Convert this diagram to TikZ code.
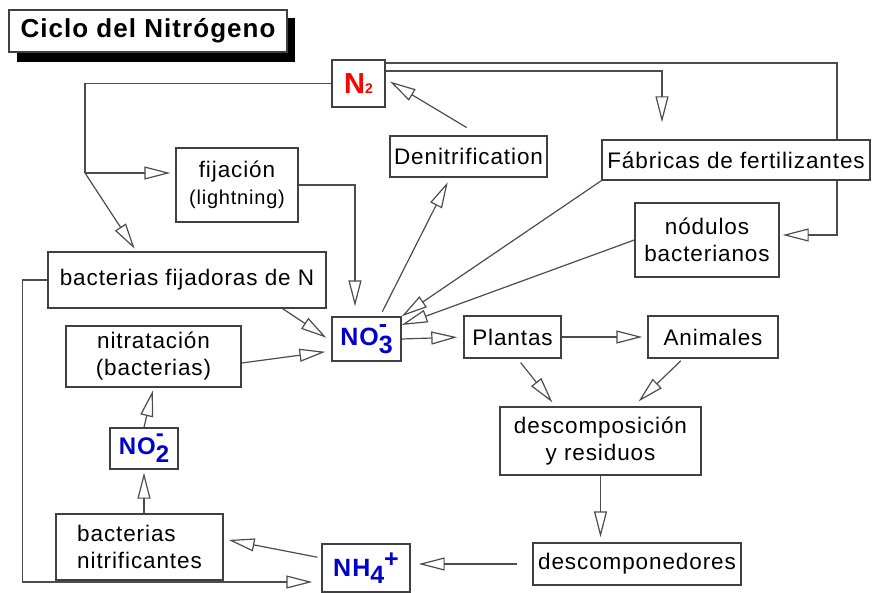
\documentclass[tikz,border=0pt]{standalone}
\usepackage{fontspec}
\setmainfont{Liberation Sans}[LetterSpace=4]
\usetikzlibrary{arrows.meta,backgrounds}
\definecolor{nred}{rgb}{1,0,0}
\definecolor{nblue}{rgb}{0,0,0.8}
\definecolor{linegray}{gray}{0.3}

\begin{document}
\begin{tikzpicture}[x=1pt, y=-1pt,
  box/.style={draw=black!75, line width=1.4pt, fill=white, inner sep=0pt,
    align=center, font=\fontsize{22.5}{27}\selectfont},
  chem/.style={box, font=\fontsize{25}{25}\selectfont\bfseries},
  lin/.style={draw=linegray, line width=1.2pt},
  arr/.style={lin, -{Triangle[open, length=26pt, width=13pt, line width=1.2pt]}}]

  \useasboundingbox (0,0) rectangle (874,593);

  % title
  \fill (17,18) rectangle (295,62);
  \node[box, line width=1.2pt, minimum width=278pt, minimum height=42pt,
    font=\fontsize{26}{26}\selectfont\bfseries] (title) at (148,31)
    {Ciclo del Nitrógeno};

  % boxes
  \node[chem, text=nred, minimum width=53pt, minimum height=47pt,
    font=\fontsize{29}{29}\selectfont\bfseries] (n2)
    at (358.5,83.5) {N{\fontsize{14}{14}\selectfont 2}};
  \node[box, minimum width=157pt, minimum height=41pt] (denit)
    at (468.5,156.5) {Denitrification};
  \node[box, minimum width=268pt, minimum height=40pt] (fab)
    at (736,160) {Fábricas de fertilizantes};
  \node[box, minimum width=144pt, minimum height=74pt] (nod)
    at (707,240) {nódulos\\bacterianos};
  \node[box, minimum width=122pt, minimum height=74pt] (fij)
    at (237,185) {fijación\\{\fontsize{20}{24}\selectfont (lightning)}};
  \node[box, minimum width=278pt, minimum height=56pt] (bfij)
    at (187,280) {bacterias fijadoras de N};
  \node[box, minimum width=175pt, minimum height=61pt] (nitrat)
    at (153.5,356.5) {nitratación\\(bacterias)};
  \node[chem, text=nblue, minimum width=69pt, minimum height=44pt] (no3)
    at (366.5,339) {NO\rlap{\raisebox{13pt}{-}}\raisebox{-8pt}{3}};
  \node[box, minimum width=97pt, minimum height=42pt] (plantas)
    at (512.5,337) {Plantas};
  \node[box, minimum width=130pt, minimum height=42pt] (anim)
    at (713,337) {Animales};
  \node[box, minimum width=201pt, minimum height=68pt] (descomp)
    at (600.5,441) {descomposición\\y residuos};
  \node[box, minimum width=208pt, minimum height=42pt] (descomps)
    at (637,564) {descomponedores};
  \node[chem, text=nblue, minimum width=88pt, minimum height=48pt] (nh4)
    at (366,568) {NH\raisebox{-7pt}{4}\raisebox{9pt}{+}};
  \node[chem, text=nblue, minimum width=68pt, minimum height=41pt,
    font=\fontsize{24}{24}\selectfont\bfseries] (no2)
    at (144,448.5) {NO\rlap{\raisebox{13pt}{-}}\raisebox{-8pt}{2}};
  \node[box, align=left, minimum width=167pt, minimum height=66pt] (bnit)
    at (139.5,547) {bacterias\\nitrificantes};

  \coordinate (split) at (85,173);
  \coordinate (rt) at (837,63);

  % fixation
  \draw[lin] (n2.west) -| (split);
  \draw[arr, shorten >=5pt] (split) -- (split -| fij.west);
  \draw[arr, shorten >=3pt] (split) -- ([xshift=89pt]bfij.north west);
  \draw[arr, shorten >=10pt] (fij.east) -| ([xshift=-11.5pt]no3.north);
  \draw[arr, shorten >=17pt] ([yshift=12.5pt]n2.east) -| ([xshift=-74pt]fab.north);
  \begin{pgfonlayer}{background}
    \draw[arr, shorten >=3pt] ([yshift=20.5pt]n2.east) -- (rt) |- ([yshift=5pt]nod.east);
  \end{pgfonlayer}

  % denitrification
  \draw[arr, shorten <=5pt, shorten >=5pt] ([xshift=13.5pt]no3.north)
    -- ([xshift=-18.5pt]denit.south);
  \draw[arr, shorten <=15pt, shorten >=5pt] ([xshift=11pt]denit.north)
    -- ([yshift=4.5pt]n2.east);

  % into NO3
  \draw[arr] (fab.south west) -- (no3.north east);
  \draw[arr] (nod.west) -- ([yshift=14pt]no3.east);
  \draw[arr, shorten >=6pt] ([xshift=-44pt]bfij.south east) -- ([yshift=-2pt]no3.west);
  \draw[arr, shorten >=6pt] ([yshift=-6.5pt]nitrat.east) -- ([yshift=-12pt]no3.west);

  % food chain
  \draw[arr, shorten >=6pt] (no3.east) -- (plantas.west);
  \draw[arr, shorten >=5pt] (plantas.east) -- (anim.west);
  \draw[arr, shorten <=5pt, shorten >=5pt] ([xshift=5pt]plantas.south)
    -- ([xshift=-45pt]descomp.north);
  \draw[arr, shorten <=3pt, shorten >=7pt] ([xshift=-30pt]anim.south)
    -- ([xshift=33pt]descomp.north);
  \draw[arr, shorten >=5pt] (descomp.south) -- (descomp.south |- descomps.north);
  \draw[arr, shorten <=15pt, shorten >=8pt] (descomps.west) -- (descomps.west -| nh4.east);

  % nitrification
  \draw[arr, shorten <=4pt, shorten >=5pt] ([yshift=10pt]nh4.west) -- ([yshift=8pt]bnit.east);
  \draw[arr, shorten >=3pt] (no2.south |- bnit.north) -- (no2.south);
  \draw[arr, shorten >=3pt] (no2.north) -- (nitrat.south);
  \draw[arr, shorten >=9pt] (bfij.west) -- ++(-25,0) |- ([yshift=-14pt]nh4.west);

\end{tikzpicture}
\end{document}
